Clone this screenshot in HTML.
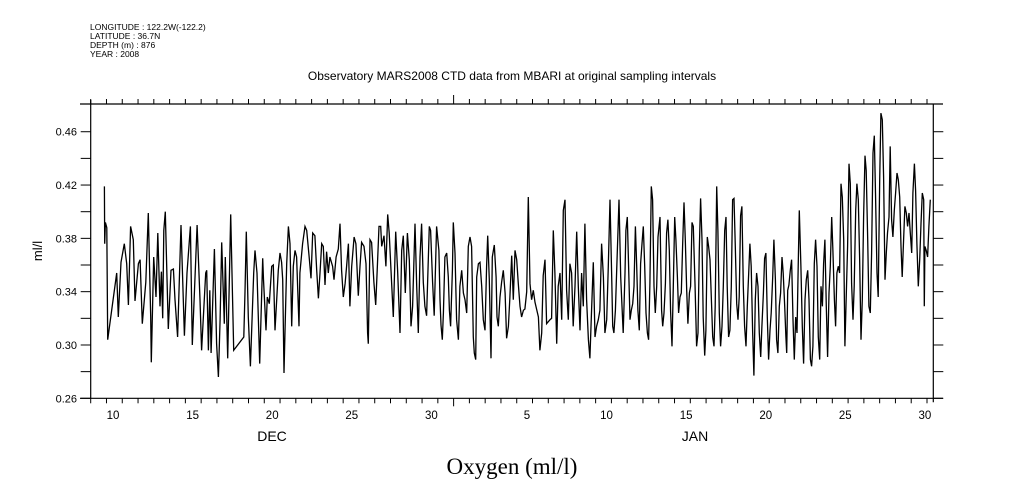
<!DOCTYPE html>
<html><head><meta charset="utf-8"><style>
html,body{margin:0;padding:0;background:#fff;}
svg{display:block;font-family:"Liberation Sans",sans-serif;}
</style></head><body>
<svg id="chart" width="1009" height="504" viewBox="0 0 1009 504" xmlns="http://www.w3.org/2000/svg">
<g font-size="8.5" fill="#000">
<text x="90" y="30">LONGITUDE : 122.2W(-122.2)</text>
<text x="90" y="39">LATITUDE : 36.7N</text>
<text x="90" y="48">DEPTH (m) : 876</text>
<text x="90" y="57">YEAR : 2008</text>
</g>
<text x="512" y="80" font-size="12" text-anchor="middle">Observatory MARS2008 CTD data from MBARI at original sampling intervals</text>
<text x="0" y="0" font-size="13" text-anchor="middle" transform="translate(42,251) rotate(-90)">ml/l</text>
<text x="512" y="474" font-size="23" text-anchor="middle" font-family="Liberation Serif, serif">Oxygen (ml/l)</text>
<text x="272" y="441" font-size="14" text-anchor="middle">DEC</text>
<text x="695" y="441" font-size="14" text-anchor="middle">JAN</text>
<g id="axes"></g>
<g id="series"></g>
</svg>
<script>
const times = [0.87,0.89,0.93,1.02,1.08,1.65,1.75,1.92,2.13,2.28,2.39,2.53,2.70,2.81,3.02,3.13,3.27,3.49,3.65,3.80,3.84,3.99,4.14,4.25,4.39,4.48,4.56,4.63,4.73,4.92,5.09,5.24,5.34,5.51,5.72,5.94,6.10,6.32,6.44,6.74,6.93,7.03,7.29,7.35,7.46,7.55,7.63,7.84,7.98,8.09,8.20,8.30,8.47,8.53,8.68,8.87,9.06,9.70,9.78,9.86,9.99,10.12,10.33,10.41,10.54,10.71,10.90,
10.95,11.11,11.19,11.32,11.47,11.57,11.68,11.79,11.89,12.00,12.10,12.17,12.25,12.31,12.42,12.53,12.63,12.74,12.84,12.95,13.05,13.20,13.26,13.43,13.58,13.69,13.86,13.96,14.07,14.21,14.32,14.43,14.53,14.64,14.74,14.85,14.95,15.06,15.16,15.33,15.42,15.55,15.69,15.80,15.90,16.01,16.12,16.22,16.33,16.43,16.54,16.69,16.81,16.96,17.07,17.17,17.32,17.45,17.55,17.59,17.70,17.80,17.95,18.06,18.16,18.27,18.38,18.44,18.59,18.71,18.82,18.92,19.03,19.18,19.33,19.45,19.60,19.71,19.81,19.94,20.07,20.19,20.30,20.40,20.55,20.66,20.76,20.87,20.97,21.08,21.18,21.29,21.46,21.54,21.67,21.77,21.92,
22.07,22.14,22.20,22.28,22.35,22.45,22.56,22.66,22.73,22.81,22.92,22.98,23.09,23.19,23.30,23.40,23.51,23.62,23.72,23.83,23.93,24.04,24.14,24.25,24.31,24.40,24.46,24.57,24.67,24.78,24.88,24.99,25.09,25.16,25.26,25.37,25.45,25.58,25.69,25.75,25.83,25.94,26.04,26.15,26.26,26.36,26.47,26.57,26.68,26.78,26.89,27.00,27.10,27.21,27.31,27.42,27.52,27.63,27.73,27.84,27.94,28.05,28.16,28.37,28.47,28.58,28.68,28.79,28.89,29.11,29.21,29.32,29.42,29.53,29.63,29.74,29.85,29.95,30.06,30.16,30.27,30.37,30.48,30.58,30.69,30.80,30.90,31.01,31.11,31.22,31.32,31.43,31.54,31.64,31.75,31.85,31.96,32.06,32.17,32.27,32.38,32.49,32.59,32.70,32.80,32.91,
33.02,33.08,33.16,33.25,33.33,33.42,33.48,33.59,33.67,33.75,33.86,33.92,34.01,34.09,34.18,34.26,34.35,34.43,34.52,34.60,34.68,34.77,34.85,34.94,35.02,35.11,35.19,35.28,35.36,35.44,35.53,35.61,35.70,35.78,35.87,35.95,36.08,36.18,36.25,36.33,36.42,36.50,36.58,36.67,36.75,36.84,36.92,37.01,37.09,37.18,37.26,37.35,37.43,37.51,37.60,37.68,37.77,37.85,37.94,38.02,38.11,38.19,38.30,38.40,38.49,38.57,38.65,38.74,38.82,38.91,38.99,39.08,39.16,39.25,39.33,39.42,39.50,39.58,39.67,39.75,39.84,39.92,40.01,40.09,40.18,40.26,40.34,40.43,40.51,40.60,40.68,40.77,40.85,40.94,41.02,41.10,41.19,41.27,41.36,41.44,41.53,41.61,41.70,41.78,41.86,41.95,42.03,42.12,42.20,42.29,42.37,42.46,42.54,42.63,42.71,42.79,42.88,42.96,43.05,43.13,43.22,43.30,43.39,43.47,43.55,43.64,43.72,43.81,43.89,43.98,44.06,
44.11,44.17,44.25,44.34,44.42,44.51,44.59,44.68,44.76,44.84,44.91,45.01,45.10,45.18,45.27,45.35,45.44,45.52,45.61,45.69,45.77,45.86,45.94,46.03,46.11,46.20,46.28,46.37,46.45,46.53,46.62,46.70,46.79,46.87,46.96,47.04,47.13,47.21,47.29,47.38,47.46,47.55,47.63,47.72,47.80,47.89,47.97,48.06,48.14,48.22,48.31,48.39,48.48,48.56,48.65,48.73,48.82,48.90,48.98,49.07,49.15,49.24,49.32,49.41,49.49,49.58,49.66,49.74,49.83,49.91,50.00,50.08,50.17,50.25,50.34,50.42,50.50,50.59,50.67,50.76,50.84,50.93,51.01,51.10,51.18,51.27,51.35,51.43,51.52,51.60,51.69,51.77,51.86,51.94,52.03,52.11,52.20,52.28,52.36,52.45,52.54,52.62,52.70,52.79,52.83,52.87,52.95,53.04,53.12,53.21];
const oxygen = [.419,.376,.392,.388,.304,.354,.321,.362,.376,.361,.330,.389,.379,.333,.361,.364,.316,.347,.399,.321,.287,.366,.336,.384,.329,.355,.320,.386,.400,.312,.356,.357,.334,.306,.390,.307,.354,.389,.300,.390,.334,.296,.354,.356,.296,.341,.294,.372,.301,.276,.319,.377,.316,.366,.290,.398,.296,.306,.340,.385,.321,.284,.354,.371,.354,.286,.365,
.349,.311,.336,.331,.359,.360,.311,.334,.356,.369,.362,.349,.279,.307,.361,.389,.376,.314,.359,.371,.366,.314,.354,.376,.389,.386,.364,.350,.384,.382,.356,.335,.354,.376,.374,.345,.370,.354,.366,.359,.349,.366,.372,.391,.356,.336,.346,.359,.376,.329,.359,.381,.376,.337,.359,.377,.374,.361,.309,.301,.379,.377,.347,.330,.356,.389,.389,.374,.382,.359,.398,.384,.356,.321,.385,.356,.309,.371,.382,.339,.384,.364,.314,.329,.391,.344,.309,.366,.391,.347,.329,.322,.389,.386,.347,.322,.389,
.371,.334,.315,.304,.324,.366,.369,.351,.326,.314,.356,.392,.369,.319,.304,.344,.356,.339,.334,.324,.374,.381,.374,.306,.294,.289,.351,.361,.362,.344,.319,.311,.359,.382,.349,.290,.366,.375,.351,.321,.314,.336,.347,.356,.339,.305,.314,.336,.367,.334,.371,.364,.346,.329,.321,.326,.327,.340,.411,.346,.334,.341,.332,.321,.296,.309,.352,.364,.316,.319,.320,.386,.354,.301,.344,.354,.319,.401,.409,.341,.319,.361,.354,.314,.344,.385,.344,.311,.354,.329,.391,.334,.304,.290,.329,.362,.306,.314,.319,.326,.376,.351,.309,.319,.359,.409,
.351,.314,.309,.326,.354,.386,.409,.351,.329,.309,.354,.386,.396,.359,.319,.326,.331,.344,.389,.359,.326,.311,.361,.376,.389,.359,.324,.309,.304,.346,.419,.409,.344,.324,.344,.381,.396,.326,.314,.324,.346,.384,.394,.371,.325,.299,.344,.396,.379,.351,.324,.336,.339,.374,.407,.379,.341,.316,.339,.344,.392,.389,.346,.299,.309,.371,.410,.379,.321,.292,.311,.381,.374,.364,.336,.306,.299,.329,.419,.386,.324,.299,.314,.344,.386,.396,.344,.306,.311,.344,.409,.410,.374,.331,.319,.336,.397,.404,.344,.314,.299,.329,.354,.376,.359,.311,.277,.334,.354,.344,.309,.291,.314,.339,.365,.369,.321,.289,.311,.324,.351,.379,.349,.304,.294,.329,.339,.366,.354,.329,.306,
.294,.341,.345,.356,.364,.319,.289,.321,.309,.359,.401,.359,.314,.286,.334,.349,.356,.334,.289,.284,.299,.361,.379,.359,.306,.289,.344,.329,.361,.379,.329,.291,.339,.359,.396,.371,.334,.314,.354,.359,.354,.421,.411,.379,.299,.341,.374,.436,.421,.346,.319,.344,.401,.421,.409,.366,.304,.334,.396,.442,.431,.379,.329,.324,.369,.444,.457,.414,.354,.336,.424,.474,.469,.426,.349,.369,.384,.396,.449,.394,.381,.401,.414,.429,.424,.411,.374,.351,.379,.404,.399,.389,.399,.384,.369,.414,.436,.416,.376,.344,.364,.391,.414,.409,.329,.374,.371,.366,.389,.409];
const yTicks = [0.26,0.30,0.34,0.38,0.42,0.46];
const yTickLabels = ["0.26","0.30","0.34","0.38","0.42","0.46"];
const dayLabels = [10,15,20,25,30,5,10,15,20,25,30];
const dayLabelOffsets = [1,6,11,16,21,27,32,37,42,47,52]; // days since Dec 9

const NS='http://www.w3.org/2000/svg';
const L=90.7, R=933.3, T=104, B=398.3, DAYS=53.4, YMIN=0.26, YMAX=0.4808;
function xs(t){return L+(t/DAYS)*(R-L);}
function ys(v){return B-(v-YMIN)/(YMAX-YMIN)*(B-T);}
function labelX(off){return 113+(off-1)*15.92;}
function mk(tag,attrs,parent){const e=document.createElementNS(NS,tag);for(const k in attrs)e.setAttribute(k,attrs[k]);parent.appendChild(e);return e;}
const axes=document.getElementById('axes');
const series=document.getElementById('series');

let el;
el=mk('line',{x1:80,y1:B,x2:943,y2:B,stroke:'#000','stroke-width':1.2},axes);


el=mk('line',{x1:80,y1:T,x2:943,y2:T,stroke:'#000','stroke-width':1.2},axes);


el=mk('line',{x1:L,y1:T-4,x2:L,y2:B,stroke:'#000','stroke-width':1.2},axes);


el=mk('line',{x1:R,y1:T,x2:R,y2:B+4,stroke:'#000','stroke-width':1.2},axes);



for(let d=0; d<=53; d++){
  const x=xs(d); const major=(d===23);
  el=mk('line',{x1:x,y1:B,x2:x,y2:B+(major?8:5),stroke:'#000','stroke-width':1},axes);
  
  
  el=mk('line',{x1:x,y1:T,x2:x,y2:T-(major?9:5),stroke:'#000','stroke-width':1},axes);
  
  
}
for(let i=0;i<dayLabels.length;i++){
  el=mk('text',{x:labelX(dayLabelOffsets[i]),y:419,'font-size':11.5,'text-anchor':'middle'},axes);
  el.textContent=dayLabels[i];
  
  
}
for(let v=0.26; v<=0.4601; v+=0.02){
  const y=ys(v);
  el=mk('line',{x1:L-10,y1:y,x2:L,y2:y,stroke:'#000','stroke-width':1},axes);
  
  
  el=mk('line',{x1:R,y1:y,x2:R+10,y2:y,stroke:'#000','stroke-width':1},axes);
  
  
}
for(let i=0;i<yTicks.length;i++){
  el=mk('text',{x:77,y:ys(yTicks[i])+4,'font-size':11,'text-anchor':'end'},axes);
  el.textContent=yTickLabels[i];
  
  
}
let dstr='';
for(let i=0;i<times.length;i++){dstr+=(i?'L':'M')+xs(times[i]).toFixed(1)+' '+ys(oxygen[i]).toFixed(1);}
el=mk('path',{d:dstr,fill:'none',stroke:'#000','stroke-width':1.3,'stroke-linejoin':'miter'},series);


</script>
</body></html>
